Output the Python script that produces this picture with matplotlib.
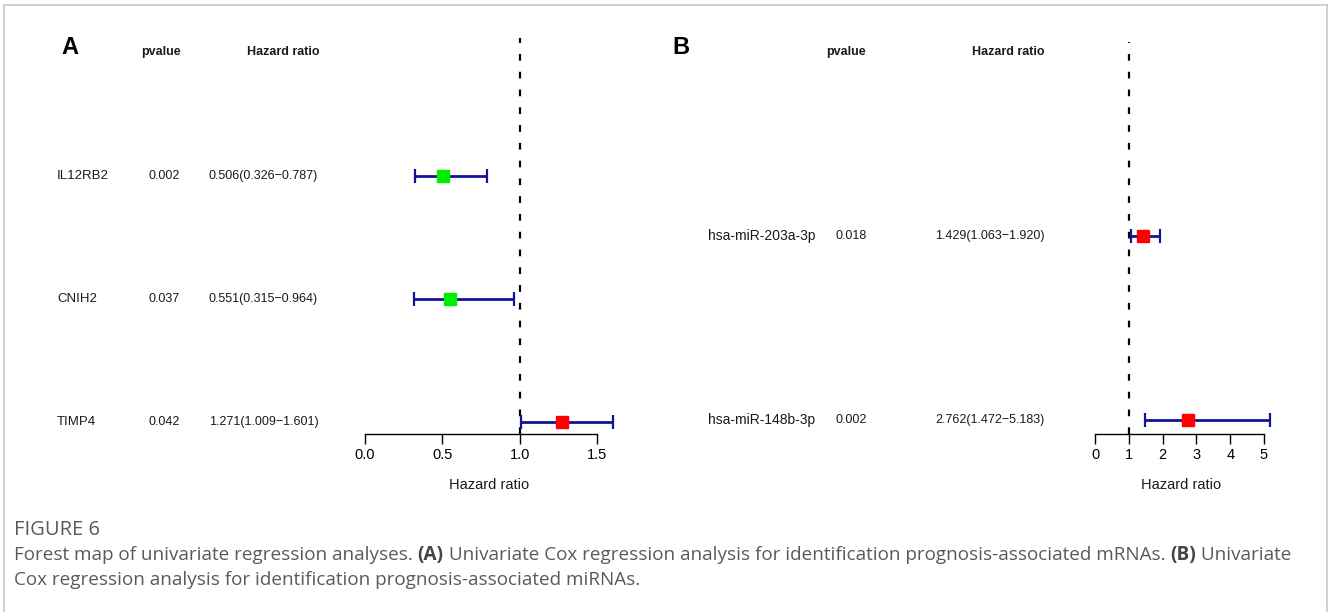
import matplotlib
matplotlib.use("Agg")
import matplotlib.pyplot as plt
from matplotlib import transforms
from matplotlib.lines import Line2D

# panel A: mRNAs
genes_a = ["IL12RB2", "CNIH2", "TIMP4"]
pval_a = ["0.002", "0.037", "0.042"]
hr_a = [0.506, 0.551, 1.271]
low_a = [0.326, 0.315, 1.009]
high_a = [0.787, 0.964, 1.601]
ticks_a = [0.0, 0.5, 1.0, 1.5]
tick_labels_a = ["0.0", "0.5", "1.0", "1.5"]

# panel B: miRNAs
genes_b = ["hsa-miR-203a-3p", "hsa-miR-148b-3p"]
pval_b = ["0.018", "0.002"]
hr_b = [1.429, 2.762]
low_b = [1.063, 1.472]
high_b = [1.920, 5.183]
ticks_b = [0, 1, 2, 3, 4, 5]
tick_labels_b = ["0", "1", "2", "3", "4", "5"]

caption_title = "FIGURE 6"
caption_1 = [("Forest map of univariate regression analyses. ", False), ("(A)", True),
             (" Univariate Cox regression analysis for identification prognosis-associated mRNAs. ", False),
             ("(B)", True), (" Univariate", False)]
caption_2 = "Cox regression analysis for identification prognosis-associated miRNAs."

W, H = 1328, 612
FONT = "Liberation Sans"
TXT = "#1A1A1A"


def fx(x):
    return x / W


def fy(y):
    return 1 - y / H


def forest(fig, rect, genes, pvals, hr, low, high, ticks, tlabels, xlim, ylim,
           col_lab, col_p, col_hr, letter, head_p, head_hr, xlab_x, fs_lab, fs_gene):
    l, r, t, b = rect
    ax = fig.add_axes([fx(l), fy(b), (r - l) / W, (b - t) / H])
    n = len(genes)
    ys = list(range(n, 0, -1))
    for i in range(n):
        c = "#00EE00" if hr[i] < 1 else "#FF0000"
        ax.errorbar(hr[i], ys[i], xerr=[[hr[i] - low[i]], [high[i] - hr[i]]],
                    fmt="s", color="#13139A", ecolor="#13139A", elinewidth=2,
                    capsize=5, capthick=1.6, markersize=8.5,
                    markerfacecolor=c, markeredgecolor=c, clip_on=False, zorder=3)
    ax.axvline(1, color="black", lw=1.6, linestyle=(0, (3, 5)), zorder=2)
    ax.set_xlim(*xlim)
    ax.set_ylim(*ylim)
    for s in ["top", "left", "right"]:
        ax.spines[s].set_visible(False)
    ax.spines["bottom"].set_linewidth(1)
    ax.set_yticks([])
    ax.set_xticks(ticks)
    ax.set_xticklabels(tlabels, fontsize=10.5, family=FONT)
    ax.tick_params(axis="x", length=7, width=1, pad=3)
    ax.patch.set_alpha(0)

    tr = transforms.blended_transform_factory(fig.transFigure, ax.transData)
    for i in range(n):
        ax.text(fx(col_lab), ys[i], genes[i], transform=tr, ha="left", va="center",
                fontsize=fs_gene, family=FONT, color=TXT)
        ax.text(fx(col_p), ys[i], pvals[i], transform=tr, ha="center", va="center",
                fontsize=fs_lab, family=FONT, color=TXT)
        ax.text(fx(col_hr), ys[i], f"{hr[i]:.3f}({low[i]:.3f}\u2212{high[i]:.3f})",
                transform=tr, ha="left", va="center", fontsize=fs_lab, family=FONT,
                color=TXT)
    fig.text(fx(letter[0]), fy(letter[1]), letter[2], ha="left", va="center",
             fontsize=17, fontweight="bold", family=FONT)
    fig.text(fx(head_p), fy(52), "pvalue", ha="center", va="center",
             fontsize=9, fontweight="bold", family=FONT, color=TXT)
    fig.text(fx(head_hr), fy(52), "Hazard ratio", ha="center", va="center",
             fontsize=9, fontweight="bold", family=FONT, color=TXT)
    fig.text(fx(xlab_x), fy(485), "Hazard ratio", ha="center", va="center",
             fontsize=10.5, family=FONT, color=TXT)
    return ax


fig = plt.figure(figsize=(W / 100, H / 100), dpi=100)

forest(fig, (365, 597, 38, 434), genes_a, pval_a, hr_a, low_a, high_a,
       ticks_a, tick_labels_a, (0, 1.5), (0.902, 4.122),
       57, 164, 209, (61, 48, "A"), 161, 283, 489, 9, 9.5)
forest(fig, (1095, 1264, 42, 434), genes_b, pval_b, hr_b, low_b, high_b,
       ticks_b, tick_labels_b, (0, 5), (0.924, 3.054),
       708, 851, 935, (672, 48, "B"), 846, 1008, 1181, 9, 10)

# light gray frame
gray = "#C8C8C8"
fig.add_artist(Line2D([fx(4), fx(4)], [0, fy(5)], color=gray, lw=1.2))
fig.add_artist(Line2D([fx(4), fx(1326.5)], [fy(5), fy(5)], color=gray, lw=1.2))
fig.add_artist(Line2D([fx(1326.5), fx(1326.5)], [0, fy(5)], color=gray, lw=1.2))

# caption
cap_font = "Open Sans"
cap_col = "#5A5A5A"
fig.text(fx(14), fy(530), caption_title, ha="left", va="center", fontsize=14.5,
         family=cap_font, color=cap_col)
renderer = fig.canvas.get_renderer()
x = fx(14)
for seg, bold in caption_1:
    t = fig.text(x, fy(555), seg, ha="left", va="center", fontsize=13.6,
                 family=cap_font, color="#444444" if bold else cap_col,
                 fontweight="bold" if bold else "normal")
    bb = t.get_window_extent(renderer)
    x += bb.width / W
fig.text(fx(14), fy(580), caption_2, ha="left", va="center", fontsize=13.6,
         family=cap_font, color=cap_col)

fig.savefig("out.png", dpi=100)
